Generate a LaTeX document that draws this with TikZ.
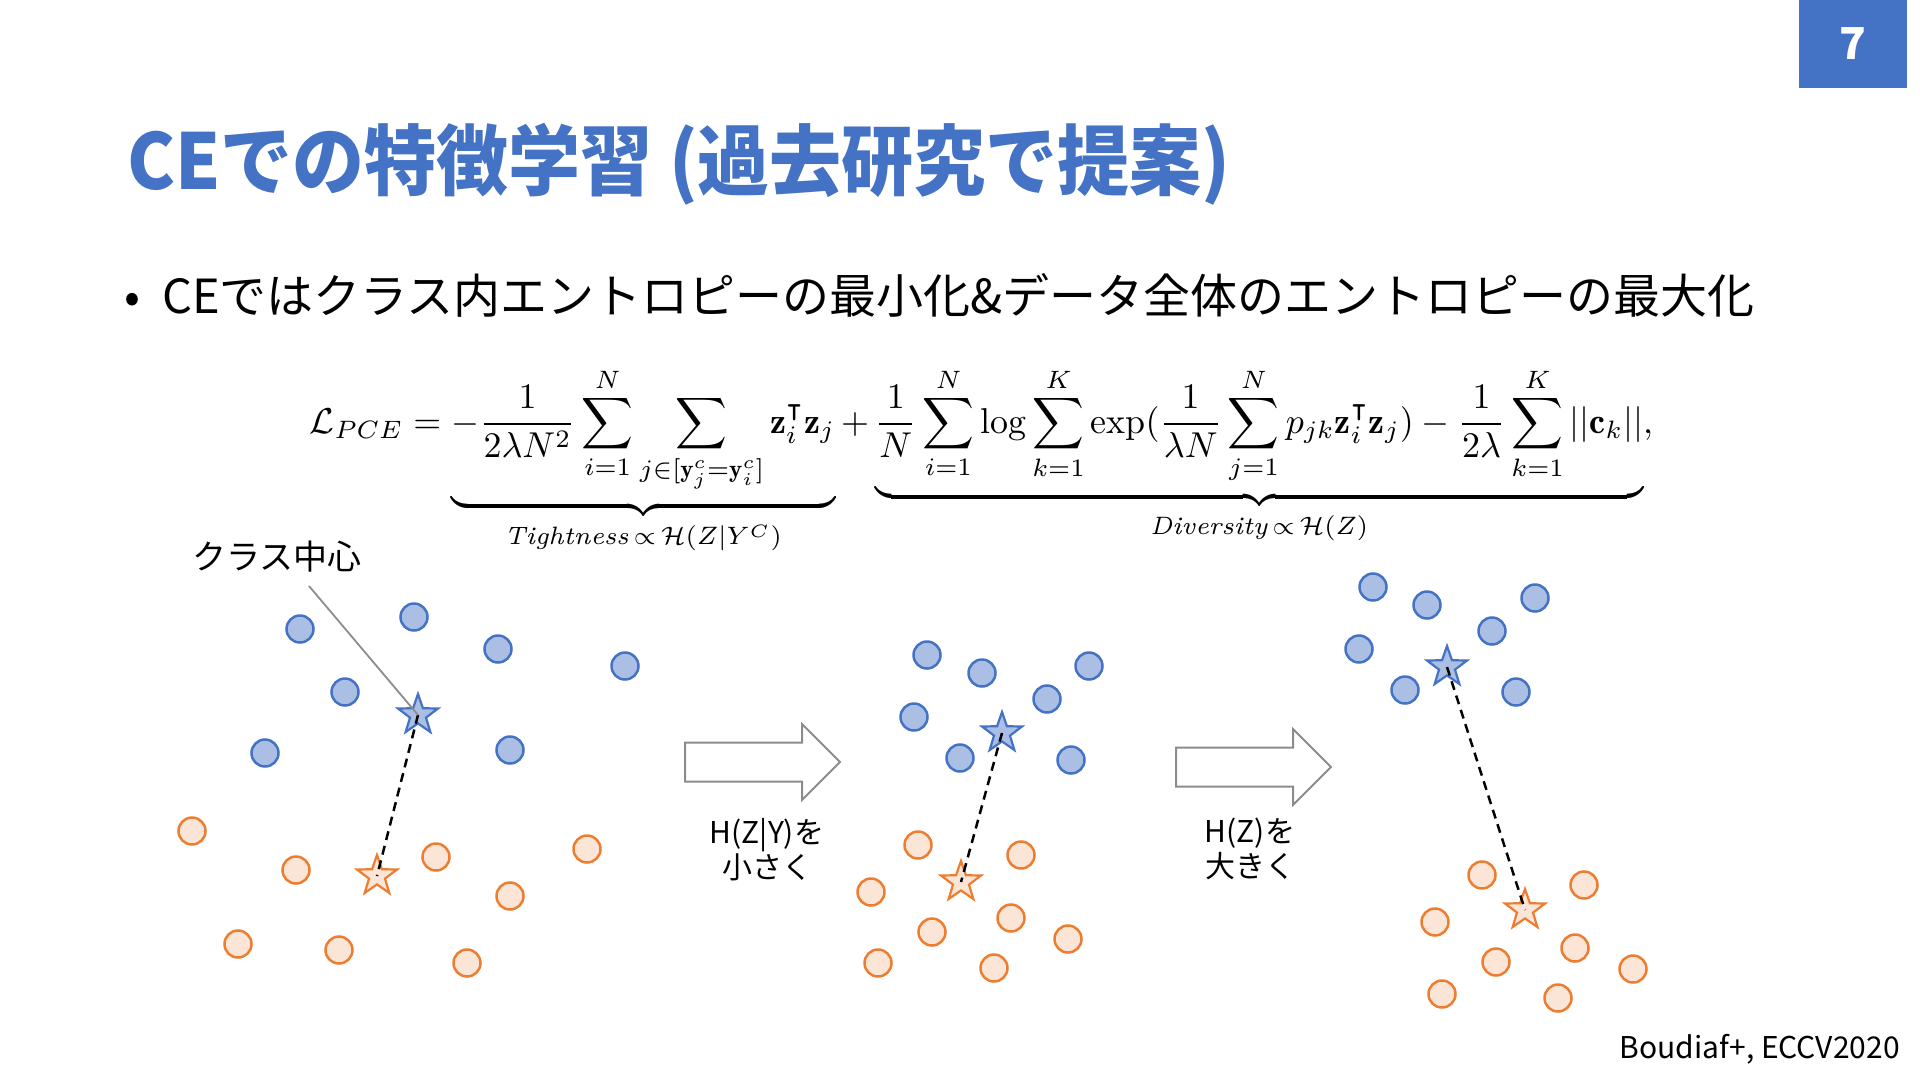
\documentclass[tikz,border=0pt]{standalone}
\usepackage{amsmath,amssymb}
\usepackage{fontspec}
\usetikzlibrary{shapes.geometric}

\newfontfamily\jpfont{Noto Sans CJK JP}

\definecolor{slideblue}{HTML}{4472C4}
\definecolor{ptblue}{HTML}{ABBFE4}
\definecolor{ptorange}{HTML}{ED7D31}
\definecolor{ptpeach}{HTML}{FBE5D6}
\definecolor{arrowgray}{HTML}{8C8C8C}

\begin{document}
\begin{tikzpicture}[x=1pt, y=-1pt,
	jp/.style={inner sep=0, font=\jpfont\fontsize{#1}{#1}\selectfont},
	bpt/.style={circle, draw=slideblue, fill=ptblue, line width=2.5pt, minimum size=27pt, inner sep=0},
	opt/.style={circle, draw=ptorange, fill=ptpeach, line width=2.5pt, minimum size=27pt, inner sep=0},
	cstar/.style={star, star points=5, star point ratio=2.5, line width=2.2pt, minimum size=42pt, inner sep=0},
	link/.style={black, line width=2.5pt, dash pattern=on 9pt off 6pt},
	bigarrow/.style={draw=arrowgray, fill=white, line width=2pt, line join=miter}
]

\useasboundingbox (0,0) rectangle (1920,1080);

\node[jp=77, anchor=base west, text=slideblue] (title) at (127,189) {\scalebox{0.935}[1]{\bfseries CEでの特徴学習 (過去研究で提案)}};
\node[fill=slideblue, text=white, minimum width=108pt, minimum height=88pt, font=\jpfont\bfseries\fontsize{44}{44}\selectfont] (pgnum) at (1853,44) {7};

\node[jp=47, anchor=base] (dot) at (132,313) {•};
\node[jp=47, anchor=base west] (point) at (162,313) {CEではクラス内エントロピーの最小化\&データ全体のエントロピーの最大化};

\node[anchor=base, inner sep=0] (loss) at (981.5,433) {\resizebox{1343pt}{!}{$\displaystyle
	\mathcal{L}_{PCE} = \underbrace{-\frac{1}{2\lambda N^2}\sum_{i=1}^{N}\sum_{j\in[\mathbf{y}_j^c=\mathbf{y}_i^c]}\mathbf{z}_i^{\intercal}\mathbf{z}_j}_{\textit{Tightness}\,\propto\,\mathcal{H}(Z|Y^C)}
	+\underbrace{\frac{1}{N}\sum_{i=1}^{N}\log\sum_{k=1}^{K}\exp(\frac{1}{\lambda N}\sum_{j=1}^{N}p_{jk}\mathbf{z}_i^{\intercal}\mathbf{z}_j)-\frac{1}{2\lambda}\sum_{k=1}^{K}||\mathbf{c}_k||}_{\textit{Diversity}\,\propto\,\mathcal{H}(Z)},$}};

% before
\foreach \px/\py [count=\i] in {300/629, 414/617, 498/649, 625/666, 345/692, 265/753, 510/750}
	\node[bpt] (bA\i) at (\px,\py) {};
\foreach \px/\py [count=\i] in {192/831, 296/870, 436/857, 587/849, 510/896, 238/944, 339/950, 467/963}
	\node[opt] (oA\i) at (\px,\py) {};
\node[cstar, draw=slideblue, fill=ptblue] (sbA) at (418,715) {};
\node[cstar, draw=ptorange, fill=ptpeach] (soA) at (377,876) {};
\draw[link] (sbA.center) -- (soA.center);

\node[jp=34] (ctrlbl) at (277,557) {クラス中心};
\coordinate (ctrfoot) at (309,586);
\draw[arrowgray, line width=1.8pt] (ctrfoot) -- (sbA.center);

% H(Z|Y) small
\foreach \px/\py [count=\i] in {927/655, 982/673, 1089/666, 1047/699, 914/717, 960/758, 1071/760}
	\node[bpt] (bB\i) at (\px,\py) {};
\foreach \px/\py [count=\i] in {918/845, 1021/855, 871/892, 932/932, 1011/918, 1068/939, 878/963, 994/968}
	\node[opt] (oB\i) at (\px,\py) {};
\node[cstar, draw=slideblue, fill=ptblue] (sbB) at (1002,733) {};
\node[cstar, draw=ptorange, fill=ptpeach] (soB) at (961,882) {};
\draw[link] (sbB.center) -- (soB.center);

% H(Z) large
\foreach \px/\py [count=\i] in {1373/587, 1427/605, 1535/598, 1492/631, 1359/649, 1405/690, 1516/692}
	\node[bpt] (bC\i) at (\px,\py) {};
\foreach \px/\py [count=\i] in {1482/875, 1584/885, 1435/922, 1575/948, 1496/962, 1633/969, 1442/994, 1558/998}
	\node[opt] (oC\i) at (\px,\py) {};
\node[cstar, draw=slideblue, fill=ptblue] (sbC) at (1447,667) {};
\node[cstar, draw=ptorange, fill=ptpeach] (soC) at (1525,910) {};
\draw[link] (sbC.center) -- (soC.center);

\foreach \ax/\ay in {685/762, 1176/767}
{
	\draw[bigarrow] (\ax,\ay-19.5) -- (\ax+117,\ay-19.5) -- (\ax+117,\ay-38) -- (\ax+155,\ay)
	-- (\ax+117,\ay+38) -- (\ax+117,\ay+19.5) -- (\ax,\ay+19.5) -- cycle;
}
\node[inner sep=0, align=center, font=\jpfont\fontsize{30}{35}\selectfont] (stepA) at (767,850) {H(Z|Y)を\\小さく};
\node[inner sep=0, align=center, font=\jpfont\fontsize{30}{35}\selectfont] (stepB) at (1250,849) {H(Z)を\\大きく};

\node[jp=30, anchor=base east] (cite) at (1900,1058) {Boudiaf+, ECCV2020};

\end{tikzpicture}
\end{document}
